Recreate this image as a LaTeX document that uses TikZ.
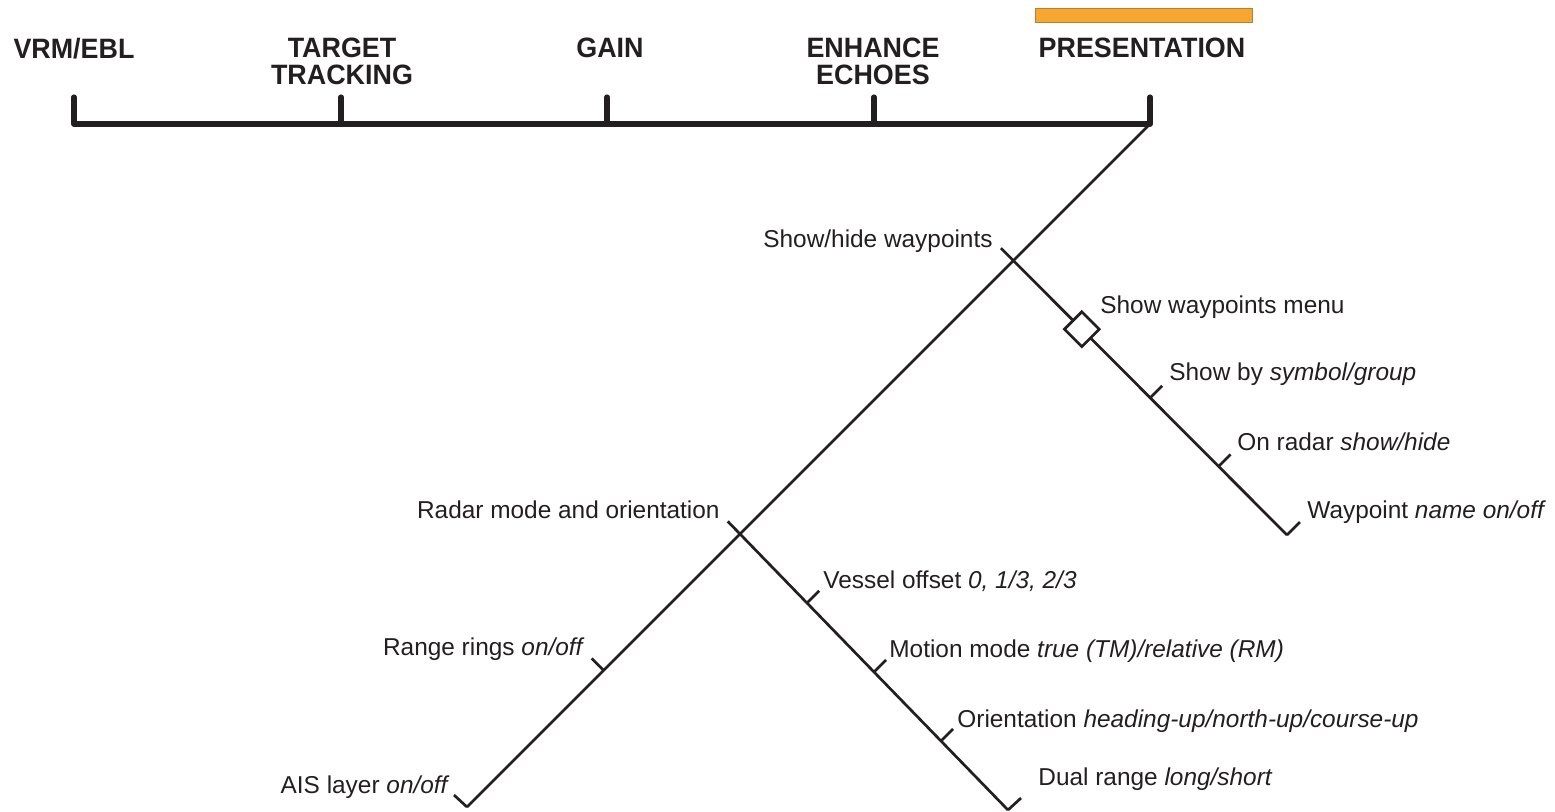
\documentclass[tikz,border=0pt]{standalone}
\usepackage{fontspec}
\setmainfont{Liberation Sans}
\newfontfamily\hdrfont[FakeStretch=0.96]{Liberation Sans}
\usetikzlibrary{calc}
\definecolor{ink}{HTML}{231F20}
\definecolor{orng}{HTML}{F8A633}
\definecolor{orngedge}{HTML}{B8802A}
\begin{document}
\begin{tikzpicture}[x=0.5pt,y=-0.5pt,
  bar/.style={draw=ink,line width=2.6pt,line cap=round,line join=round},
  branch/.style={draw=ink,line width=1.35pt},
  tickline/.style={draw=ink,line width=1.35pt},
  hdr/.style={font=\hdrfont\bfseries\fontsize{14}{13.5}\selectfont,text=ink,inner sep=0pt,anchor=north,align=center},
  lbl/.style={font=\fontsize{12.2}{14}\selectfont,text=ink,inner sep=0pt},
  lblL/.style={lbl,anchor=base west},
  lblR/.style={lbl,anchor=base east},
  ]
\useasboundingbox (0,0) rectangle (1555,811);

% orange highlight
\node[draw=orngedge,fill=orng,line width=0.4pt,inner sep=0pt,minimum width=108.5pt,minimum height=7pt] (hl) at (1144,15.5) {};

% headers
\node[hdr] (h1) at (74,38) {VRM/EBL};
\node[hdr] (h2) at (342,38) {TARGET\\TRACKING};
\node[hdr] (h3) at (610,38) {GAIN};
\node[hdr] (h4) at (873,38) {ENHANCE\\ECHOES};
\node[hdr] (h5) at (1142,38) {PRESENTATION};

% top bar
\coordinate (b1) at (74,124);  \coordinate (b1t) at (74,97);
\coordinate (b2) at (341,124); \coordinate (b2t) at (341,97);
\coordinate (b3) at (607,124); \coordinate (b3t) at (607,97);
\coordinate (b4) at (874,124); \coordinate (b4t) at (874,97);
\coordinate (b5) at (1150,124);\coordinate (b5t) at (1150,97);
\draw[bar] (b1t) -- (b1) -- (b5) -- (b5t);
\draw[bar] (b2) -- (b2t);
\draw[bar] (b3) -- (b3t);
\draw[bar] (b4) -- (b4t);

% main diagonal
\coordinate (mend) at (467,807);
\draw[branch] (b5) -- (mend);
\coordinate (c1) at ($(b5)!0.2!(mend)$);
\coordinate (c2) at ($(b5)!0.6!(mend)$);
\coordinate (rr) at ($(b5)!0.8!(mend)$);
\coordinate (rrt) at ($(rr)+(-12,-12)$);
\coordinate (mendt) at ($(mend)+(-13,-12)$);
\draw[tickline] (rr) -- (rrt);
\draw[tickline] (mend) -- (mendt);

% waypoints branch
\coordinate (c1s) at ($(c1)+(-12.5,-12.5)$);
\coordinate (wend) at (1287,535);
\draw[branch] (c1s) -- (wend);
\coordinate (w1) at ($(c1)!0.25!(wend)$);
\coordinate (w2) at ($(c1)!0.5!(wend)$);
\coordinate (w3) at ($(c1)!0.75!(wend)$);
\coordinate (w2t) at ($(w2)+(12,-12)$);
\coordinate (w3t) at ($(w3)+(12,-12)$);
\coordinate (wendt) at ($(wend)+(13,-13)$);
\draw[tickline] (w2) -- (w2t);
\draw[tickline] (w3) -- (w3t);
\draw[tickline] (wend) -- (wendt);
\node[draw=ink,fill=white,line width=1.35pt,inner sep=0pt,minimum size=12.3pt,rotate=45] (dia) at (w1) {};

% radar branch
\coordinate (c2s) at ($(c2)+(-12.5,-12.5)$);
\coordinate (rend) at (1008,810);
\draw[branch] (c2s) -- (rend);
\coordinate (r1) at ($(c2)!0.25!(rend)$);
\coordinate (r2) at ($(c2)!0.5!(rend)$);
\coordinate (r3) at ($(c2)!0.75!(rend)$);
\coordinate (r1t) at ($(r1)+(12,-12)$);
\coordinate (r2t) at ($(r2)+(12,-12)$);
\coordinate (r3t) at ($(r3)+(12,-12)$);
\coordinate (rendt) at ($(rend)+(13,-12)$);
\draw[tickline] (r1) -- (r1t);
\draw[tickline] (r2) -- (r2t);
\draw[tickline] (r3) -- (r3t);
\draw[tickline] (rend) -- (rendt);

% labels
\node[lblR] (lhide) at (993,247) {Show/hide waypoints};
\node[lblL] (lmenu) at (1100,313) {Show waypoints menu};
\node[lblL] (lsym) at (1169,380) {Show by \textit{symbol/group}};
\node[lblL] (lonr) at (1237,450) {On radar \textit{show/hide}};
\node[lblL] (lwpn) at (1307,518) {Waypoint \textit{name on/off}};
\node[lblR] (lrmo) at (720,518) {Radar mode and orientation};
\node[lblR] (lrng) at (585,655) {Range rings \textit{on/off}};
\node[lblR] (lais) at (450,793) {AIS layer \textit{on/off}};
\node[lblL] (lves) at (823,588) {Vessel offset \textit{0, 1/3, 2/3}};
\node[lblL] (lmot) at (889,657) {Motion mode \textit{true (TM)/relative (RM)}};
\node[lblL] (lori) at (957,727) {Orientation \textit{heading-up/north-up/course-up}};
\node[lblL] (ldual) at (1038,785) {Dual range \textit{long/short}};
\end{tikzpicture}
\end{document}
